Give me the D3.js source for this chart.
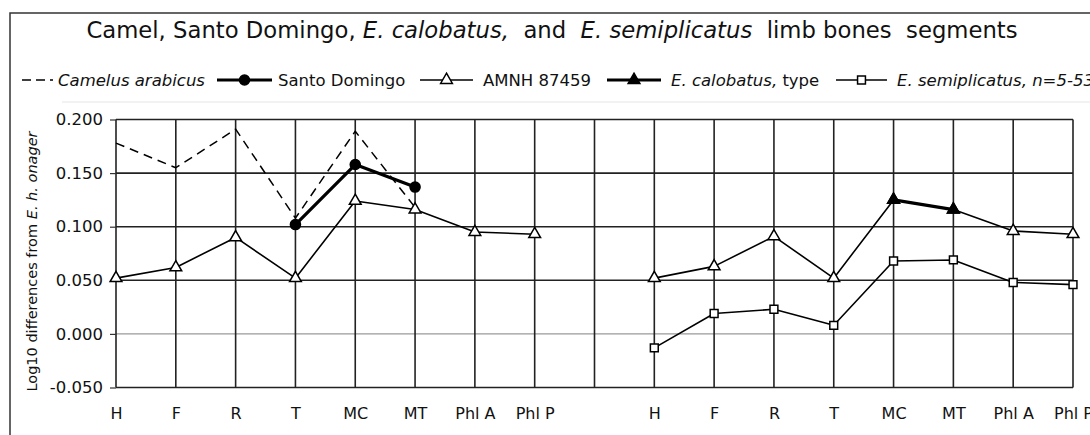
<!DOCTYPE html>
<html><head><meta charset="utf-8">
<script src="https://cdn.jsdelivr.net/npm/d3@7"></script>
<style>
body{margin:0;background:#fff}
svg{display:block;font-family:"DejaVu Sans",sans-serif}
</style>
</head><body>
<svg id="c" width="1090" height="435"></svg>
<script>
// ---------- data ----------
const boneLabels = ["H","F","R","T","MC","MT","Phl A","Phl P"];
const slotLabels = [...boneLabels, "", ...boneLabels];   // left panel, gap, right panel
const yTicks = [-0.05, 0, 0.05, 0.1, 0.15, 0.2];
const yTickLabels = ["-0.050","0.000","0.050","0.100","0.150","0.200"];

// left panel (slots 0-7)
const camelusLeft       = [0.178, 0.155, 0.191, 0.108, 0.189, 0.118, null, null];
const santoDomingoLeft  = [null, null, null, 0.102, 0.158, 0.137, null, null];
const amnhLeft          = [0.052, 0.062, 0.090, 0.052, 0.124, 0.116, 0.095, 0.093];
// right panel (slots 9-16)
const amnhRight         = [0.052, 0.063, 0.091, 0.052, 0.125, 0.116, 0.096, 0.093];
const calobatusRight    = [null, null, null, null, 0.125, 0.116, null, null];
const semiplicatusRight = [-0.013, 0.019, 0.023, 0.008, 0.068, 0.069, 0.048, 0.046];

// ---------- layout ----------
const svg = d3.select("#c");
const X0 = 116, X1 = 1073, YT = 119.5, YB = 387.5;
const slots = d3.range(slotLabels.length);
const x = d3.scalePoint().domain(slots).range([X0, X1]);
const y = d3.scaleLinear().domain([-0.05, 0.2]).range([YB, YT]);

// frame
svg.append("rect").attr("x",10).attr("y",13).attr("width",1100).attr("height",440)
  .attr("fill","none").attr("stroke","#333").attr("stroke-width",1.5);

// title
const title = svg.append("text").attr("x",552).attr("y",38).attr("text-anchor","middle")
  .attr("font-size",19).attr("fill","#111").style("white-space","pre");
[["Camel, Santo Domingo, ",false],["E. calobatus,",true],["  and  ",false],
 ["E. semiplicatus",true],["  limb bones  segments",false]].forEach(([t,it])=>{
  title.append("tspan").text(t).attr("font-style", it?"italic":"normal");
});
const tw = title.node().getComputedTextLength();
title.attr("font-size", 19*932/tw);

// faint separator line
svg.append("line").attr("x1",62).attr("x2",1090).attr("y1",102).attr("y2",102)
  .attr("stroke","#f2f2f2").attr("stroke-width",2);

// grid: zero line grey (drawn first), other horizontals dark
const g = svg.append("g");
g.selectAll("line.h").data(yTicks).join("line").attr("class","h")
  .attr("x1",X0).attr("x2",X1).attr("y1",d=>y(d)).attr("y2",d=>y(d))
  .attr("stroke",d=>d===0?"#9a9a9a":"#222").attr("stroke-width",d=>d===0?1.2:1.6);
g.selectAll("line.v").data(slots).join("line").attr("class","v")
  .attr("x1",d=>x(d)).attr("x2",d=>x(d)).attr("y1",YT).attr("y2",YB)
  .attr("stroke","#222").attr("stroke-width",1.6);

// y axis
const yAxis = d3.axisLeft(y).tickValues(yTicks).tickSize(6).tickPadding(7)
  .tickFormat((d,i)=>yTickLabels[i]);
const ya = svg.append("g").attr("transform",`translate(${X0},0)`).call(yAxis);
ya.select(".domain").remove();
ya.selectAll(".tick line").attr("stroke","#333").attr("stroke-width",1.2);
ya.selectAll(".tick text").attr("font-size",16.5).attr("fill","#111")
  .attr("font-family","DejaVu Sans");

// x axis labels
const xAxis = d3.axisBottom(x).tickSize(0).tickPadding(20).tickFormat(i=>slotLabels[i]);
const xa = svg.append("g").attr("transform",`translate(0,${YB})`).call(xAxis);
xa.select(".domain").remove();
xa.selectAll(".tick text").attr("font-size",16).attr("fill","#111")
  .attr("font-family","DejaVu Sans");

// y axis title
const yt = svg.append("text").attr("transform",`translate(37,${(YT+YB)/2 + 8}) rotate(-90)`)
  .attr("text-anchor","middle").attr("font-size",14.5).attr("fill","#111");
yt.append("tspan").text("Log10 differences from ");
yt.append("tspan").text("E. h. onager").attr("font-style","italic");

// ---------- series ----------
const toPts = (arr, offset) => arr.map((v,i)=>({s:i+offset, v})).filter(d=>d.v!=null);
const line = d3.line().x(d=>x(d.s)).y(d=>y(d.v));
const plot = svg.append("g");

function drawLine(pts, w, dash){
  plot.append("path").datum(pts).attr("d",line).attr("fill","none")
    .attr("stroke","#000").attr("stroke-width",w).attr("stroke-dasharray",dash||null)
    .attr("stroke-linejoin","round");
}
function drawMarkers(pts, type, size, fill){
  plot.append("g").selectAll("path").data(pts).join("path")
    .attr("transform",d=>`translate(${x(d.s)},${y(d.v)})`)
    .attr("d", d3.symbol(type, size)())
    .attr("fill",fill).attr("stroke","#000").attr("stroke-width",1.5);
}

const camel = toPts(camelusLeft,0);
const sd = toPts(santoDomingoLeft,0);
const amL = toPts(amnhLeft,0);
const amR = toPts(amnhRight,9);
const cal = toPts(calobatusRight,9);
const sem = toPts(semiplicatusRight,9);

drawLine(amL,1.6); drawLine(amR,1.6); drawLine(sem,1.6);
drawLine(camel,1.5,"9,6");
drawLine(sd,3.2); drawLine(cal,3.2);
drawMarkers(amL, d3.symbolTriangle, 60, "#fff");
drawMarkers(amR, d3.symbolTriangle, 60, "#fff");
drawMarkers(sem, d3.symbolSquare, 62, "#fff");
drawMarkers(sd, d3.symbolCircle, 80, "#000");
drawMarkers(cal, d3.symbolTriangle, 60, "#000");

// ---------- legend ----------
const LY = 80;
const leg = svg.append("g");
function legItem(x1,x2,w,dash,sym,size,fill,tx,parts){
  leg.append("line").attr("x1",x1).attr("x2",x2).attr("y1",LY).attr("y2",LY)
    .attr("stroke","#000").attr("stroke-width",w).attr("stroke-dasharray",dash||null);
  if(sym) leg.append("path").attr("transform",`translate(${(x1+x2)/2},${LY})`)
    .attr("d",d3.symbol(sym,size)()).attr("fill",fill).attr("stroke","#000").attr("stroke-width",1.5);
  const t = leg.append("text").attr("x",tx).attr("y",LY+6).attr("font-size",16.5).attr("fill","#111");
  parts.forEach(([s,it])=>t.append("tspan").text(s).attr("font-style",it?"italic":"normal"));
}
legItem(22,53,1.5,"9,5",null,0,null,58,[["Camelus arabicus",true]]);
legItem(217,272,3.2,null,d3.symbolCircle,80,"#000",278,[["Santo Domingo",false]]);
legItem(420,473,1.6,null,d3.symbolTriangle,60,"#fff",483,[["AMNH 87459",false]]);
legItem(607,661,3.2,null,d3.symbolTriangle,60,"#000",671,[["E. calobatus,",true],[" type",false]]);
legItem(836,887,1.6,null,d3.symbolSquare,62,"#fff",897,[["E. semiplicatus, n=5-53",true]]);
</script>
</body></html>
